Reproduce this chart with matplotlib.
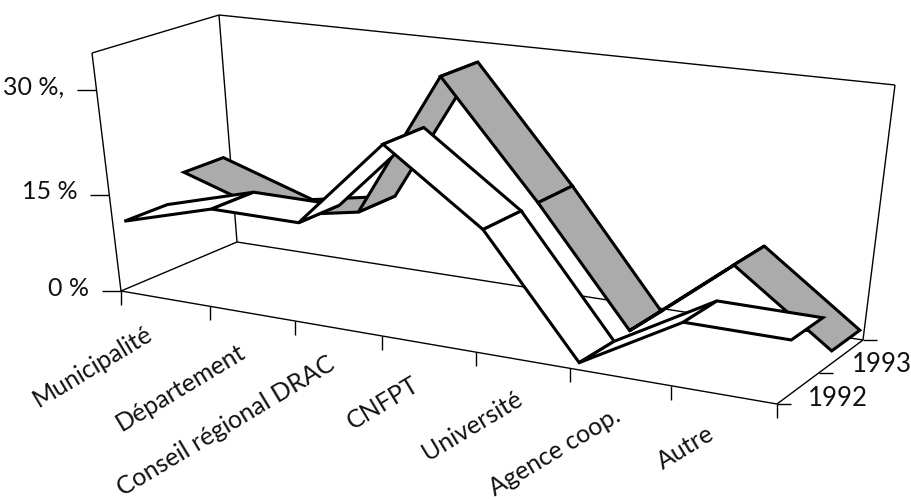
import matplotlib
matplotlib.use("Agg")
import matplotlib.pyplot as plt
import numpy as np
from matplotlib.patches import Polygon

plt.rcParams['font.family'] = ['Lato', 'DejaVu Sans']

# 7 labels, but the ribbons have 8 vertices (one per tick)
categories = ["Municipalité", "Département", "Conseil régional DRAC", "CNFPT",
              "Université", "Agence coop.", "Autre"]
values_1992 = [10.3, 14.2, 14.1, 26.8, 17.0, 0.0, 8.3, 8.2]
values_1993 = [14.2, 9.5, 11.9, 32.7, 17.0, 0.2, 12.1, 2.0]
series_labels = ["1992", "1993"]
y_ticks = [0, 15, 30]
y_labels = ["0 %", "15 %", "30 %,"]
z_max = 35

# layout: tick spacing along the front edge is a bit uneven in the scan
tick_pos = [0, 1.07, 2.06, 3.03, 4.03, 5, 6, 7]


def homography(dst):
    src = [(0, 0), (7, 0), (0, 1), (7, 1)]
    A = []
    b = []
    for (x, y), (X, Y) in zip(src, dst):
        A.append([x, y, 1, 0, 0, 0, -x * X, -y * X])
        b.append(X)
        A.append([0, 0, 0, x, y, 1, -x * Y, -y * Y])
        b.append(Y)
    h = np.linalg.solve(np.array(A, float), np.array(b, float))
    return np.append(h, 1).reshape(3, 3)


# chart box: floor and ceiling corners in figure pixels
H_floor = homography([(121, 291), (777, 404), (237, 242), (863, 340)])
H_top = homography([(92, 53), (804, 137), (219, 15), (895, 85)])


def apply(H, u, v):
    p = H @ np.array([u, v, 1.0])
    return p[:2] / p[2]


def frac(z):
    return (0.0258 * z / (1 - 0.0026 * z)) / (0.0258 * z_max / (1 - 0.0026 * z_max))


def project(u, v, z):
    f = apply(H_floor, u, v)
    t = apply(H_top, u, v)
    return f + frac(z) * (t - f)


fig = plt.figure(figsize=(9.12, 5.0), dpi=100)
ax = fig.add_axes([0, 0, 1, 1])
ax.set_xlim(0, 912)
ax.set_ylim(500, 0)
ax.axis("off")


def line(p, q, lw=1.0):
    ax.plot([p[0], q[0]], [p[1], q[1]], color="black", lw=lw, solid_capstyle="butt", zorder=1)


# walls and floor
line(project(0, 0, 0), project(0, 0, z_max))
line(project(0, 0, z_max), project(0, 1, z_max))
line(project(0, 1, 0), project(0, 1, z_max))
line(project(0, 1, z_max), project(7, 1, z_max))
line(project(7, 1, 0), project(7, 1, z_max))
line(project(0, 0, 0), project(0, 1, 0))
line(project(0, 1, 0), project(7, 1, 0))
line(project(0, 0, 0), project(7, 0, 0))
line(project(7, 0, 0), project(7, 1, 0))

# value ticks on the left wall
for z, lab in zip(y_ticks, y_labels):
    p = project(0, 0, z)
    line((p[0] - 19, p[1]), p)
    ax.text(p[0] - 32, p[1] - 3, lab, ha="right", va="center", fontsize=18, color="#111111")

# category ticks along the front edge
for u in tick_pos:
    p = project(u, 0, 0)
    line(p, (p[0], p[1] + 14))

label_ends = [(150, 332), (243, 350), (333, 362), (417, 383), (520, 397), (618, 414), (712, 432)]
for lab, (x, y) in zip(categories, label_ends):
    ax.text(x, y, lab, rotation=31, rotation_mode="anchor", ha="right", va="center",
            fontsize=18, color="#111111")

# series ticks on the right edge
for v, lab, dx, dy in zip((0.0, 0.47, 1.0), series_labels + [None], (31, 33, 0), (-6, -8, 0)):
    p = project(7, v, 0)
    line(p, (p[0] + 14, p[1]))
    if lab:
        ax.text(p[0] + dx, p[1] + dy, lab, ha="left", va="center", fontsize=18.5, color="#111111")


def ribbon(values, v0, v1, color, zorder):
    for i in range(len(values) - 1):
        quad = [project(tick_pos[i], v0, values[i]), project(tick_pos[i + 1], v0, values[i + 1]),
                project(tick_pos[i + 1], v1, values[i + 1]), project(tick_pos[i], v1, values[i])]
        ax.add_patch(Polygon(quad, closed=True, facecolor=color, edgecolor="black",
                             lw=2.2, joinstyle="miter", zorder=zorder + i * 0.01))


ribbon(values_1993, 0.60, 0.94, "#ababab", 3)
ribbon(values_1992, 0.09, 0.44, "white", 4)

fig.savefig("out.png", dpi=100)
